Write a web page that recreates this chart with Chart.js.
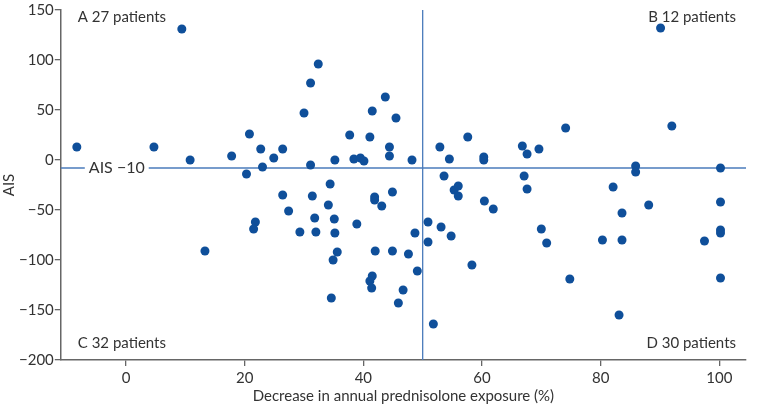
<!DOCTYPE html>
<html>
<head>
<meta charset="utf-8">
<script src="https://cdn.jsdelivr.net/npm/chart.js@4.4.1/dist/chart.umd.min.js"></script>
<style>
  html, body { margin: 0; padding: 0; background: #fff; }
  #wrap { width: 759px; height: 406px; }
</style>
</head>
<body>
<div id="wrap"><canvas id="chart"></canvas></div>
<script>
// decrease in annual prednisolone exposure (%)
var xValues = [
  -8.3, 4.7, 9.4, 10.8, 17.8, 20.8, 22.7, 23.0, 24.9, 26.4, 30.0, 31.1, 32.4, 31.1, 35.2,
  37.7, 38.4, 39.5, 40.1, 41.1, 41.5, 43.7, 44.4, 44.4, 45.5, 48.2,
  52.9, 54.5, 57.6, 60.3, 60.3, 66.8, 67.6, 69.6, 74.1, 90.1, 92.0, 85.9, 100.2,
  20.3, 13.3, 21.8, 21.5, 26.4, 27.4, 29.3, 31.4, 31.8, 32.0, 34.4, 34.1, 35.1, 35.2, 35.6,
  34.9, 34.6, 38.9, 41.9, 41.9, 43.1, 44.9, 42.0, 41.5, 41.1, 41.4, 44.9, 47.6, 48.7, 49.1,
  46.7, 45.9,
  53.6, 55.3, 56.0, 56.0, 60.4, 61.9, 50.9, 50.9, 53.1, 54.8, 51.8, 58.3, 67.1, 67.6, 82.1,
  85.9, 88.1, 83.6, 100.2, 70.0, 70.9, 80.3, 83.6, 97.5, 100.2, 100.2, 74.8, 100.2, 83.1
];
// AIS
var aisValues = [
  13, 13, 131, 0, 4, 26, 11, -7, 2, 11, 47, 77, 96, -5, 0,
  25, 1, 2, -1, 23, 49, 63, 13, 4, 42, 0,
  13, 1, 23, 3, 0, 14, 6, 11, 32, 132, 34, -6, -8,
  -14, -91, -62, -69, -35, -51, -72, -36, -58, -72, -24, -45, -59, -73, -92,
  -100, -138, -64, -37, -40, -46, -32, -91, -116, -121, -128, -91, -94, -73, -111,
  -130, -143,
  -16, -30, -26, -36, -41, -49, -62, -82, -67, -76, -164, -105, -16, -29, -27,
  -12, -45, -53, -42, -69, -83, -80, -80, -81, -70, -73, -119, -118, -155
];
var xTicks = [0, 20, 40, 60, 80, 100];
var yTicks = [-200, -150, -100, -50, 0, 50, 100, 150];
var xRange = [-11, 104.5];
var yRange = [-200, 150];
var aisCut = -8;        // horizontal reference line (labelled AIS -10)
var exposureCut = 50;   // vertical reference line
var quadrantLabels = ['A 27 patients', 'B 12 patients', 'C 32 patients', 'D 30 patients'];

var textColor = '#333';
var axisColor = '#666';
var pointColor = '#0f4f9a';
var refColor = '#4a7bbb';
var fontFamily = 'Lato, "Noto Sans", sans-serif';

var points = xValues.map(function (x, i) { return { x: x, y: aisValues[i] }; });

var labelsPlugin = {
  id: 'labels',
  afterDatasetsDraw: function (chart) {
    var ctx = chart.ctx;
    var a = chart.chartArea;
    var y = chart.scales.y;
    ctx.save();
    ctx.font = '15px ' + fontFamily;
    ctx.fillStyle = textColor;
    ctx.textBaseline = 'top';
    ctx.textAlign = 'left';
    ctx.fillText(quadrantLabels[0], a.left + 17, a.top + 0);
    ctx.fillText(quadrantLabels[2], a.left + 17, a.bottom - 24);
    ctx.textAlign = 'right';
    ctx.fillText(quadrantLabels[1], a.right - 10, a.top + 0);
    ctx.fillText(quadrantLabels[3], a.right - 10, a.bottom - 24);

    // label sitting on the horizontal line
    var ly = y.getPixelForValue(aisCut);
    var txt = 'AIS \u221210';
    ctx.font = '16px ' + fontFamily;
    var w = ctx.measureText(txt).width;
    var lx = a.left + 28;
    ctx.fillStyle = '#fff';
    ctx.fillRect(lx - 4, ly - 8, w + 8, 16);
    ctx.fillStyle = textColor;
    ctx.textAlign = 'left';
    ctx.textBaseline = 'middle';
    ctx.fillText(txt, lx, ly);
    ctx.restore();
  }
};

function fixedTicks(list) {
  return function (scale) {
    scale.ticks = list.map(function (v) { return { value: v }; });
  };
}

var ctx = document.getElementById('chart').getContext('2d');
var chart = new Chart(ctx, {
  type: 'scatter',
  data: {
    datasets: [
      {
        type: 'line',
        data: [{ x: xRange[0], y: aisCut }, { x: xRange[1], y: aisCut }],
        borderColor: refColor,
        borderWidth: 1.3,
        pointRadius: 0,
        order: 2
      },
      {
        type: 'line',
        data: [{ x: exposureCut, y: yRange[0] }, { x: exposureCut, y: yRange[1] }],
        borderColor: refColor,
        borderWidth: 1.3,
        pointRadius: 0,
        order: 2
      },
      {
        data: points,
        backgroundColor: pointColor,
        borderColor: pointColor,
        pointRadius: 4.5,
        borderWidth: 0,
        order: 1
      }
    ]
  },
  options: {
    responsive: true,
    maintainAspectRatio: false,
    animation: false,
    layout: { padding: { top: 5, right: 13, left: 0, bottom: 1 } },
    plugins: {
      legend: { display: false },
      tooltip: { enabled: false }
    },
    scales: {
      x: {
        type: 'linear',
        min: xRange[0],
        max: xRange[1],
        afterBuildTicks: fixedTicks(xTicks),
        border: { display: true, color: axisColor, width: 1.5 },
        grid: { display: true, drawOnChartArea: false, drawTicks: true, tickLength: 6, color: axisColor, lineWidth: 1.3 },
        ticks: { color: textColor, font: { size: 15, family: fontFamily }, padding: 3, maxRotation: 0 },
        title: { display: true, text: 'Decrease in annual prednisolone exposure (%)', color: textColor, font: { size: 15, family: fontFamily }, padding: { top: -3, bottom: 0 } }
      },
      y: {
        type: 'linear',
        min: yRange[0],
        max: yRange[1],
        afterBuildTicks: fixedTicks(yTicks),
        border: { display: true, color: axisColor, width: 1.5 },
        grid: { display: true, drawOnChartArea: false, drawTicks: true, tickLength: 6, color: axisColor, lineWidth: 1.3 },
        ticks: {
          color: textColor, font: { size: 15, family: fontFamily }, padding: 1,
          callback: function (v) { return String(v).replace('-', '\u2212'); }
        },
        title: { display: true, text: 'AIS', color: textColor, font: { size: 15, family: fontFamily }, padding: { top: 0, bottom: 0 } }
      }
    }
  },
  plugins: [labelsPlugin]
});
</script>
</body>
</html>
